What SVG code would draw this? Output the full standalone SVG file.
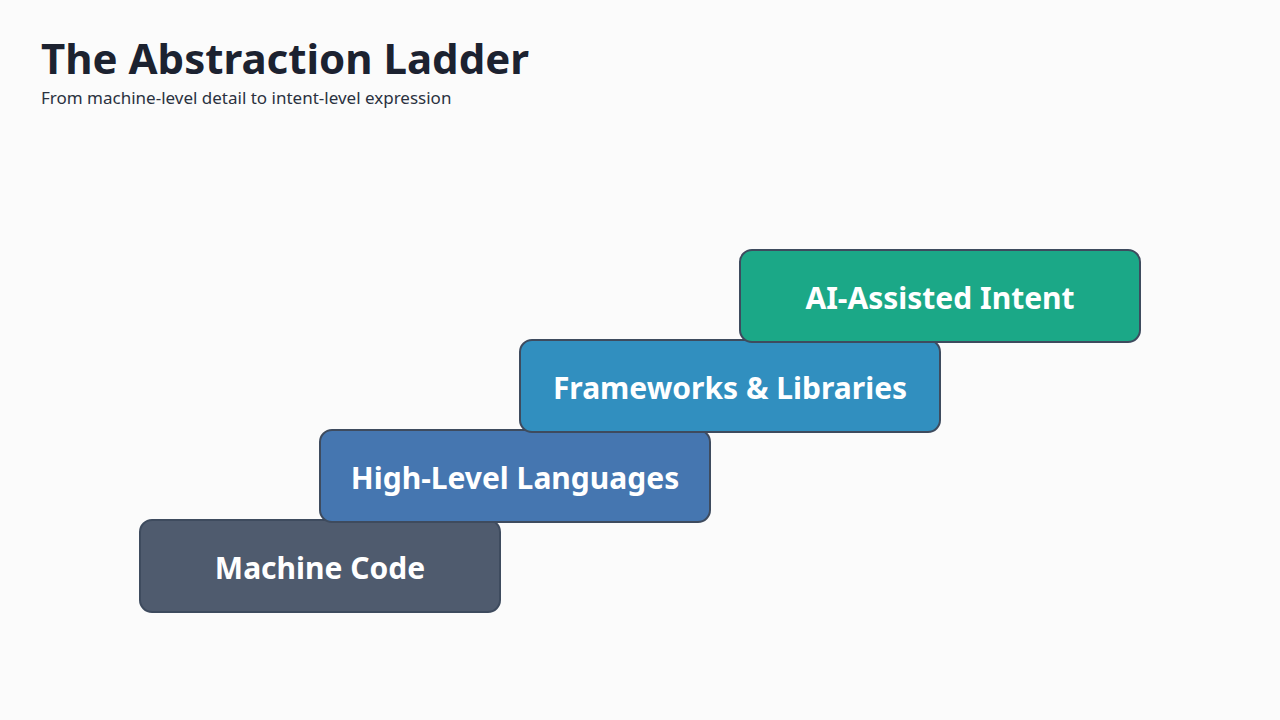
<svg xmlns="http://www.w3.org/2000/svg" width="1280" height="720" viewBox="0 0 1280 720">
<style>
.box{stroke:#3e4b5e;stroke-width:2}
.lbl{font-family:"Noto Sans","Open Sans",sans-serif;font-weight:bold;font-size:30px;fill:#ffffff;text-anchor:middle;dominant-baseline:central}
</style>
<rect width="1280" height="720" fill="#fbfbfb"/>
<text x="41" y="74" font-family="'Noto Sans','Open Sans',sans-serif" font-weight="bold" font-size="42" fill="#1c2230">The Abstraction Ladder</text>
<text x="41" y="104" font-family="'Noto Sans','Open Sans',sans-serif" font-size="17" fill="#2a3140">From machine-level detail to intent-level expression</text>
<g id="connectors"></g>
<g id="machine-code"><rect class="box" x="140" y="520" width="360" height="92" rx="12" fill="#4f5b6e"/><text class="lbl" x="320" y="567">Machine Code</text></g>
<g id="high-level"><rect class="box" x="320" y="430" width="390" height="92" rx="12" fill="#4576b0"/><text class="lbl" x="515" y="477">High-Level Languages</text></g>
<g id="frameworks"><rect class="box" x="520" y="340" width="420" height="92" rx="12" fill="#318fbf"/><text class="lbl" x="730" y="387">Frameworks &amp; Libraries</text></g>
<g id="ai"><rect class="box" x="740" y="250" width="400" height="92" rx="12" fill="#1ba887"/><text class="lbl" x="940" y="297">AI-Assisted Intent</text></g>
</svg>
